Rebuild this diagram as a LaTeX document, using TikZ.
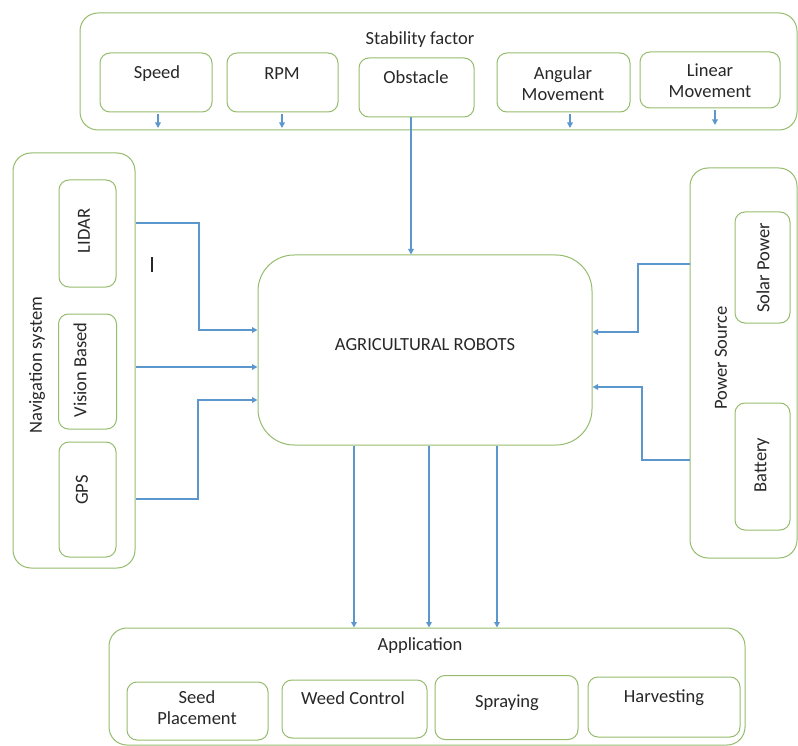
\documentclass[tikz,border=0pt]{standalone}
\usepackage{fontspec}
\setmainfont{Carlito}
\usetikzlibrary{arrows.meta}
\definecolor{grn}{RGB}{150,188,110}
\definecolor{arr}{RGB}{91,150,205}
\definecolor{txt}{RGB}{40,40,40}
\begin{document}
\begin{tikzpicture}[x=1pt,y=-1pt,
  panel/.style={draw=grn, line width=1pt, rounded corners=18pt, inner sep=0pt},
  sub/.style={draw=grn, line width=1pt, rounded corners=10pt, inner sep=0pt},
  lbl/.style={font=\fontsize{18.5}{21}\selectfont, text=txt, inner sep=0pt, align=center},
  conn/.style={draw=arr, line width=1.5pt, -{Triangle[length=5.5pt,width=5.5pt]}}]
\useasboundingbox (0,0) rectangle (798,746);
\fill[white] (0,0) rectangle (798,746);

% Stability factor panel
\node[panel, minimum width=717pt, minimum height=117pt] (stab) at (438.5,71.5) {};
\node[lbl] (stabt) at (420,40) {Stability factor};
\node[sub, minimum width=112pt, minimum height=59pt] (speed) at (156,82.5) {};
\node[lbl] (speedt) at (157,74) {Speed};
\node[sub, minimum width=111pt, minimum height=59pt] (rpm) at (282.5,82.5) {};
\node[lbl] (rpmt) at (282,74) {RPM};
\node[sub, minimum width=115pt, minimum height=59pt] (obst) at (416.5,87.5) {};
\node[lbl] (obstt) at (416,77) {Obstacle};
\node[sub, minimum width=133pt, minimum height=59pt] (ang) at (563.5,82.5) {};
\node[lbl] (angt) at (563,84) {Angular\\Movement};
\node[sub, minimum width=140pt, minimum height=56pt] (lin) at (710,80) {};
\node[lbl] (lint) at (710,81) {Linear\\Movement};

% Center
\node[panel, rounded corners=36pt, minimum width=334pt, minimum height=190pt] (robot) at (425,350) {};
\node[lbl] (robott) at (425,345) {AGRICULTURAL ROBOTS};

% small arrows
\coordinate (speedA) at (158,128);
\coordinate (rpmA) at (282,128);
\coordinate (angA) at (570,128);
\coordinate (linA) at (715,125);
\draw[conn] (speed.south -| speedA) ++(0,2) -- (speedA);
\draw[conn] (rpm.south -| rpmA) ++(0,2) -- (rpmA);
\draw[conn] (ang.south -| angA) ++(0,2) -- (angA);
\draw[conn] (lin.south -| linA) ++(0,2) -- (linA);
\draw[conn] (obst.south -| 411,0) -- (robot.north -| 411,0);

% Navigation panel
\node[panel, minimum width=122pt, minimum height=415pt] (nav) at (74,360.5) {};
\node[lbl, rotate=90] (navt) at (37,365) {Navigation system};
\node[sub, minimum width=57pt, minimum height=107pt] (lidar) at (87.5,233.5) {};
\node[lbl, rotate=90] (lidart) at (84,231) {LIDAR};
\node[sub, minimum width=58pt, minimum height=115pt] (vision) at (87.5,371.5) {};
\node[lbl, rotate=90] (visiont) at (80,370) {Vision Based};
\node[sub, minimum width=57pt, minimum height=115pt] (gps) at (87.5,499.5) {};
\node[lbl, rotate=90] (gpst) at (82,490) {GPS};
\draw[line width=1.3pt, txt] (152,257) -- (152,272);

\draw[conn] (nav.east |- 0,223) -- (199,223) -- (199,330) -- (robot.west |- 0,330);
\draw[conn] (nav.east |- 0,367) -- (robot.west |- 0,367);
\draw[conn] (nav.east |- 0,499) -- (198,499) -- (198,400) -- (robot.west |- 0,400);

% Power source panel
\node[panel, minimum width=107pt, minimum height=390pt] (pow) at (743.5,363) {};
\node[lbl, rotate=90] (powt) at (721,358) {Power Source};
\node[sub, minimum width=55pt, minimum height=111pt] (solar) at (762.5,267.5) {};
\node[lbl, rotate=90] (solart) at (763,268) {Solar Power};
\node[sub, minimum width=55pt, minimum height=127pt] (batt) at (762.5,466.5) {};
\node[lbl, rotate=90] (battt) at (762,465) {Battery};

\draw[conn] (pow.west |- 0,264) -- (638,264) -- (638,332) -- (robot.east |- 0,332);
\draw[conn] (pow.west |- 0,460) -- (642,460) -- (642,387) -- (robot.east |- 0,387);

% Application panel
\node[panel, minimum width=636pt, minimum height=117pt] (app) at (427,686.5) {};
\node[lbl] (appt) at (420,646) {Application};
\node[sub, minimum width=141pt, minimum height=58pt] (seed) at (197.5,711) {};
\node[lbl] (seedt) at (197,708) {Seed\\Placement};
\node[sub, minimum width=145pt, minimum height=58pt] (weed) at (354.5,709) {};
\node[lbl] (weedt) at (353,698) {Weed Control};
\node[sub, minimum width=143pt, minimum height=64pt] (spray) at (506.5,707.5) {};
\node[lbl] (sprayt) at (507,703) {Spraying};
\node[sub, minimum width=152pt, minimum height=60pt] (harv) at (664,707) {};
\node[lbl] (harvt) at (664,698) {Harvesting};

\draw[conn] (robot.south -| 354,0) -- (app.north -| 354,0);
\draw[conn] (robot.south -| 429,0) -- (app.north -| 429,0);
\draw[conn] (robot.south -| 497,0) -- (app.north -| 497,0);
\end{tikzpicture}
\end{document}
